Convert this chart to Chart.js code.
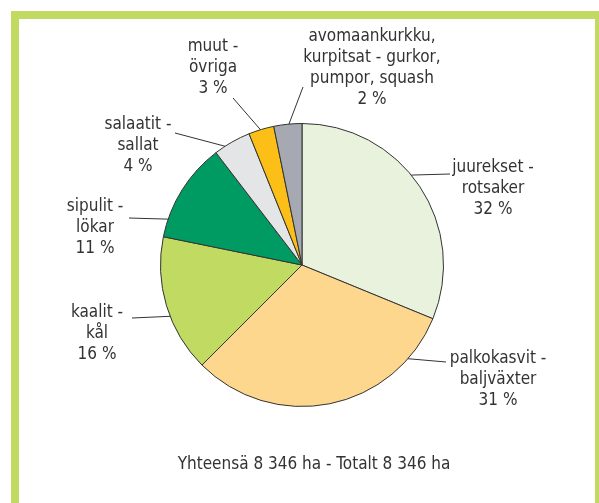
<!DOCTYPE html>
<html>
<head>
<meta charset="utf-8">
<title>Vihannesten viljelyala</title>
<script src="https://cdn.jsdelivr.net/npm/chart.js@4/dist/chart.umd.min.js"></script>
<style>
  html, body { margin: 0; padding: 0; background: #fff; overflow: hidden; }
  #frame {
    position: absolute; left: 11px; top: 11px;
    width: 576px; height: 600px;
    border: 8px solid #c1da62;
  }
  #wrap { position: absolute; left: 0; top: 0; width: 599px; height: 503px; }
</style>
</head>
<body>
<div id="frame"></div>
<div id="wrap"><canvas id="pie" width="599" height="503"></canvas></div>
<script>
// Shares of the cultivated area (clockwise from 12 o'clock)
var categories = [
  ['juurekset -', 'rotsaker'],
  ['palkokasvit -', 'baljväxter'],
  ['kaalit -', 'kål'],
  ['sipulit -', 'lökar'],
  ['salaatit -', 'sallat'],
  ['muut -', 'övriga'],
  ['avomaankurkku,', 'kurpitsat - gurkor,', 'pumpor, squash']
];
var shares = [31.2, 31.3, 15.7, 11.4, 4.3, 2.9, 3.2];
var pctLabels = ['32 %', '31 %', '16 %', '11 %', '4 %', '3 %', '2 %'];
var totalText = 'Yhteensä 8 346 ha - Totalt 8 346 ha';

var colors = ['#e8f2dd', '#fed78f', '#c0da62', '#009b63', '#e3e5e6', '#fcbf17', '#a6a8b2'];

// Label layout: centre x, middle of first line y, where the leader line ends,
// and where along the slice (0..1) the leader touches the rim.
var labelPos = [
  { x: 493, y: 168, lx: 450, ly: 174, t: 0.45 },
  { x: 498, y: 359, lx: 446, ly: 362, t: 0.17 },
  { x: 97,  y: 313, lx: 132, ly: 318, t: 0.42 },
  { x: 95,  y: 207, lx: 129, ly: 218, t: 0.18 },
  { x: 138, y: 125, lx: 175, ly: 133, t: 0.29 },
  { x: 213, y: 47,  lx: 233, ly: 98,  t: 0.47 },
  { x: 372, y: 37,  lx: 303, ly: 87,  t: 0.54 }
];
var FONT = '17px "Liberation Sans Narrow", "DejaVu Sans Condensed", "Arial Narrow", sans-serif';
var LINE_H = 21;

var labelPlugin = {
  id: 'pieLabels',
  afterDatasetsDraw: function (chart) {
    var ctx = chart.ctx;
    var arcs = chart.getDatasetMeta(0).data;
    ctx.save();
    ctx.strokeStyle = '#333';
    ctx.lineWidth = 1;
    ctx.fillStyle = '#333';
    ctx.font = FONT;
    ctx.textAlign = 'center';
    ctx.textBaseline = 'middle';
    arcs.forEach(function (arc, i) {
      var p = labelPos[i];
      var a = arc.startAngle + (arc.endAngle - arc.startAngle) * p.t;
      var r = arc.outerRadius;
      ctx.beginPath();
      ctx.moveTo(arc.x + Math.cos(a) * r, arc.y + Math.sin(a) * r);
      ctx.lineTo(p.lx, p.ly);
      ctx.stroke();
      var lines = categories[i].concat([pctLabels[i]]);
      lines.forEach(function (txt, k) {
        ctx.fillText(txt, p.x, p.y + k * LINE_H);
      });
    });
    ctx.fillText(totalText, 314, 465);
    ctx.restore();
  }
};

new Chart(document.getElementById('pie').getContext('2d'), {
  type: 'pie',
  data: {
    labels: categories.map(function (c) { return c.join(' '); }),
    datasets: [{
      data: shares,
      backgroundColor: colors,
      borderColor: '#333',
      borderWidth: 1
    }]
  },
  options: {
    responsive: false,
    animation: false,
    layout: { padding: { left: 160, right: 155, top: 123, bottom: 96 } },
    plugins: {
      legend: { display: false },
      tooltip: { enabled: false }
    }
  },
  plugins: [labelPlugin]
});
</script>
</body>
</html>
